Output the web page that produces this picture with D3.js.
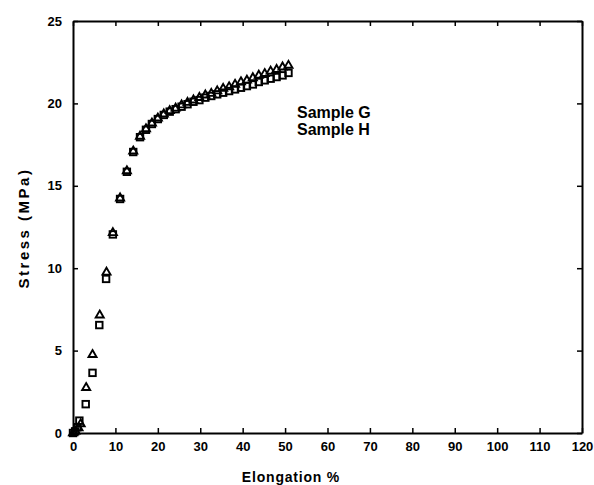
<!DOCTYPE html>
<html>
<head>
<meta charset="utf-8">
<script src="https://cdn.jsdelivr.net/npm/d3@7"></script>
<style>
  body { margin: 0; background: #fff; }
  text { font-family: "Liberation Sans", Arial, sans-serif; fill: #000; }
</style>
</head>
<body>
<script>
// Sample G (open squares)
const sampleG = [
  [0, 0], [0.5, 0.1], [1.0, 0.35], [1.5, 0.75], [3.0, 1.75], [4.6, 3.65],
  [6.2, 6.55], [7.8, 9.35], [9.4, 12.05], [11.1, 14.2], [12.7, 15.85],
  [14.2, 17.05], [15.8, 17.95], [17.2, 18.4], [18.6, 18.75], [20.0, 19.05],
  [21.4, 19.3], [22.8, 19.5], [24.2, 19.65], [25.6, 19.8], [27.0, 19.95],
  [28.4, 20.1], [29.8, 20.2], [31.2, 20.35], [32.6, 20.45], [34.0, 20.55],
  [35.4, 20.65], [36.8, 20.75], [38.2, 20.85], [39.6, 20.95], [41.0, 21.05],
  [42.4, 21.15], [43.8, 21.3], [45.2, 21.4], [46.6, 21.5], [48.0, 21.6],
  [49.4, 21.7], [50.8, 21.85]
];

// Sample H (open triangles)
const sampleH = [
  [0, 0], [0.6, 0.1], [1.3, 0.3], [1.8, 0.55], [3.1, 2.75], [4.6, 4.75],
  [6.3, 7.15], [7.9, 9.75], [9.4, 12.15], [11.1, 14.25], [12.7, 15.9],
  [14.2, 17.1], [15.8, 18.0], [17.2, 18.45], [18.6, 18.8], [20.0, 19.1],
  [21.4, 19.35], [22.8, 19.55], [24.2, 19.7], [25.6, 19.9], [27.0, 20.05],
  [28.4, 20.2], [29.8, 20.35], [31.2, 20.5], [32.6, 20.6], [34.0, 20.75],
  [35.4, 20.9], [36.8, 21.0], [38.2, 21.15], [39.6, 21.3], [41.0, 21.4],
  [42.4, 21.55], [43.8, 21.7], [45.2, 21.8], [46.6, 21.95], [48.0, 22.05],
  [49.4, 22.2], [50.8, 22.3]
];

const xTicks = d3.range(0, 121, 10);
const yTicks = [0, 5, 10, 15, 20, 25];
const legendNames = ["Sample G", "Sample H"];

const width = 594, height = 485;
const margin = { top: 21, right: 12, bottom: 52, left: 73 };

const x = d3.scaleLinear().domain([0, 120]).range([margin.left, width - margin.right]);
const y = d3.scaleLinear().domain([0, 25]).range([height - margin.bottom, margin.top]);

const svg = d3.select("body").append("svg")
  .attr("width", width)
  .attr("height", height);

const tickLen = 5;

// Axes with inward ticks
const axisB = svg.append("g")
  .attr("transform", `translate(0,${y(0)})`)
  .call(d3.axisBottom(x).tickValues(xTicks).tickSizeInner(-tickLen).tickSizeOuter(0).tickPadding(9));
const axisT = svg.append("g")
  .attr("transform", `translate(0,${y(25)})`)
  .call(d3.axisTop(x).tickValues(xTicks).tickSizeInner(-tickLen).tickSizeOuter(0).tickFormat(""));
const axisL = svg.append("g")
  .attr("transform", `translate(${x(0)},0)`)
  .call(d3.axisLeft(y).tickValues(yTicks).tickSizeInner(-tickLen).tickSizeOuter(0).tickPadding(11));
const axisR = svg.append("g")
  .attr("transform", `translate(${x(120)},0)`)
  .call(d3.axisRight(y).tickValues(yTicks).tickSizeInner(-tickLen).tickSizeOuter(0).tickFormat(""));

[axisB, axisT, axisL, axisR].forEach(g => {
  g.select(".domain").attr("stroke", "#000").attr("stroke-width", 2);
  g.selectAll(".tick line").attr("stroke", "#000").attr("stroke-width", 1.5);
  g.selectAll("text")
    .attr("font-family", "'Liberation Sans', Arial, sans-serif")
    .attr("font-size", 13)
    .attr("font-weight", "bold")
    .attr("fill", "#000");
});

// Axis titles (x title sits left of plot centre in the original)
svg.append("text")
  .attr("x", 291)
  .attr("y", 482)
  .attr("text-anchor", "middle")
  .attr("font-family", "'DejaVu Sans', sans-serif")
  .attr("font-size", 14)
  .attr("font-weight", "bold")
  .attr("letter-spacing", 0.8)
  .text("Elongation %");

svg.append("text")
  .attr("transform", `translate(29,228) rotate(-90)`)
  .attr("text-anchor", "middle")
  .attr("font-family", "'DejaVu Sans', sans-serif")
  .attr("font-size", 15)
  .attr("font-weight", "bold")
  .attr("letter-spacing", 2.5)
  .text("Stress (MPa)");

// Markers
const sq = 6.5;
svg.append("g")
  .selectAll("rect")
  .data(sampleG)
  .join("rect")
  .attr("x", d => x(d[0]) - sq / 2)
  .attr("y", d => y(d[1]) - sq / 2)
  .attr("width", sq)
  .attr("height", sq)
  .attr("fill", "none")
  .attr("stroke", "#000")
  .attr("stroke-width", 1.9);

const tri = d3.symbol().type(d3.symbolTriangle).size(28);
svg.append("g")
  .selectAll("path")
  .data(sampleH)
  .join("path")
  .attr("d", tri)
  .attr("transform", d => `translate(${x(d[0])},${y(d[1])})`)
  .attr("fill", "none")
  .attr("stroke", "#000")
  .attr("stroke-width", 1.9);

// Legend (labels only, as in the original)
svg.append("g")
  .selectAll("text")
  .data(legendNames)
  .join("text")
  .attr("x", 297)
  .attr("y", (d, i) => 118 + i * 17)
  .attr("font-size", 16)
  .attr("font-weight", "bold")
  .text(d => d);
</script>
</body>
</html>
